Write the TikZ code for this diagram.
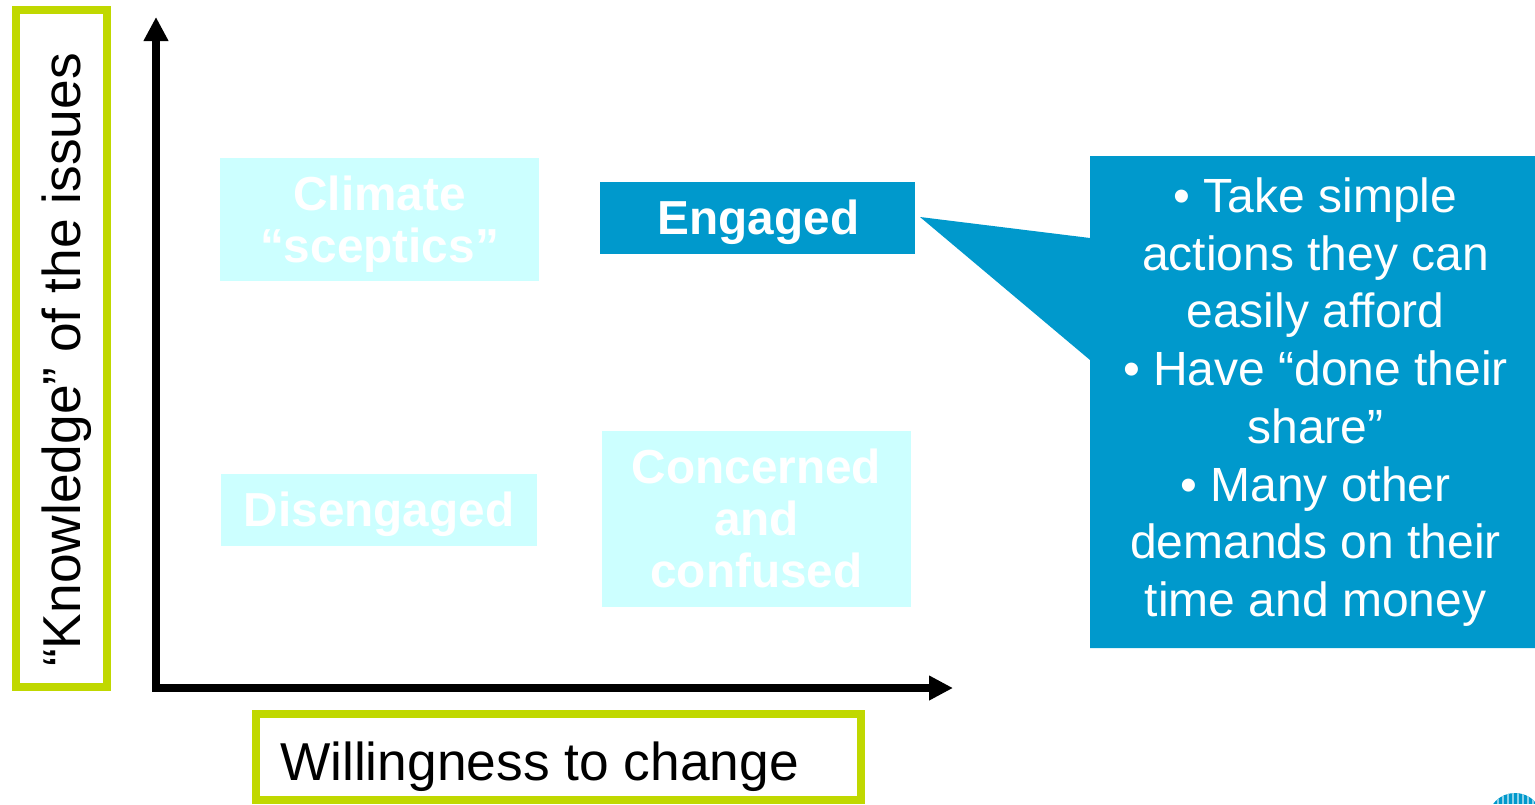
\documentclass[tikz,border=0pt]{standalone}
\usepackage{fontspec}
\setmainfont{Liberation Sans}
\usetikzlibrary{arrows.meta}
\definecolor{lime}{HTML}{C0D800}
\definecolor{pale}{HTML}{CCFFFF}
\definecolor{deep}{HTML}{0099CC}
\tikzset{
  x=0.75pt,y=-0.75pt,
  axisline/.style={line width=6pt,-{Triangle[length=18pt,width=17.5pt]},line cap=rect},
  frameline/.style={draw=lime,line width=6pt,fill=white},
  framelabel/.style={font=\fontsize{40}{46}\selectfont,inner sep=0pt},
  quad/.style={fill=#1,inner sep=0pt},
  quadtext/.style={text=white,align=center,inner sep=0pt,font=\fontsize{35.8}{39}\selectfont\bfseries},
}
\begin{document}
\begin{tikzpicture}
\useasboundingbox (0,0) rectangle (1535,804);
% frames
\draw[frameline] (16,10) rectangle (106.5,687);
\draw[frameline] (256,714) rectangle (861,800);
\node[framelabel,rotate=90] (ylab) at (67,360) {“Knowledge” of the issues};
\node[framelabel] (xlab) at (539.5,767) {Willingness to change};
% axes
\coordinate (origin) at (156,688);
\coordinate (ytip) at (156,17);
\coordinate (xtip) at (953,688);
\draw[axisline] (origin) -- (ytip);
\draw[axisline] (origin) -- (xtip);
% quadrants
\node[quad=pale,minimum width=239.25pt,minimum height=92.25pt] (sceptics) at (379.5,219.5) {};
\node[quadtext] (scepticsText) at (379.5,224) {Climate\\“sceptics”};
\node[quad=deep,minimum width=236.25pt,minimum height=54pt] (engaged) at (757.5,218) {};
\node[quadtext] (engagedText) at (758.5,222) {Engaged};
\node[quad=pale,minimum width=237pt,minimum height=54pt] (disengaged) at (379,510) {};
\node[quadtext] (disengagedText) at (379,514) {Disengaged};
\node[quad=pale,minimum width=231.75pt,minimum height=132pt] (confused) at (756.5,519) {};
\node[quadtext] (confusedText) at (756.5,518.5) {Concerned\\and\\confused};
% callout
\fill[deep] (920,217) -- (1090,238) -- (1090,156) -- (1535,156) -- (1535,648) -- (1090,648) -- (1090,360) -- cycle;
\node[text=white,align=center,inner sep=0pt,font=\fontsize{36}{43.3}\selectfont] (notes) at (1315.5,402)
 {• Take simple\\actions they can\\easily afford\\• Have “done their\\share”\\• Many other\\demands on their\\time and money};
% logo
\begin{scope}
\clip (1515,820.5) circle[radius=27.5];
\fill[deep] (1487,790) rectangle (1535,804);
\foreach \i in {0,...,9}{\draw[white!55!deep,line width=0.8pt] (1493+\i*5,790) -- (1493+\i*5,804);}
\end{scope}
\end{tikzpicture}
\end{document}
